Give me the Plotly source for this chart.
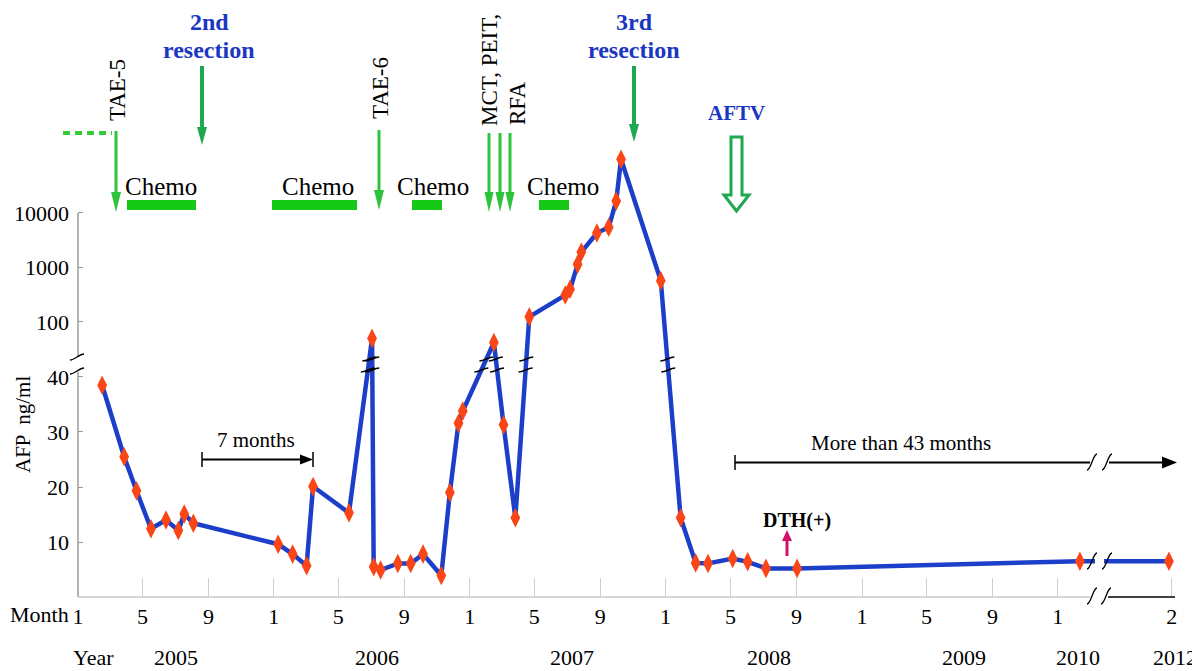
import numpy as np
import pandas as pd
import plotly.graph_objects as go

# ---------------- data ----------------
sample_dates = [
    "2005-02-15", "2005-03-28", "2005-04-20", "2005-05-17", "2005-06-14", "2005-07-07", "2005-07-18", "2005-08-04",
    "2006-01-09", "2006-02-05", "2006-03-03", "2006-03-15", "2006-05-21", "2006-07-03", "2006-07-06", "2006-07-19",
    "2006-08-20", "2006-09-13",
    "2006-10-06", "2006-11-09", "2006-11-25", "2006-12-11", "2006-12-19", "2007-02-15", "2007-03-05", "2007-03-27",
    "2007-04-22",
    "2007-06-28", "2007-07-07", "2007-07-21", "2007-07-28", "2007-08-26", "2007-09-17", "2007-10-01", "2007-10-10",
    "2007-12-23",
    "2008-01-29", "2008-02-26", "2008-03-20", "2008-05-05", "2008-06-02", "2008-07-06", "2008-09-02", "2010-02-11",
    "2012-02-15",
]
afp_ng_ml = [
    38.5, 25.5, 19.3, 12.4, 14.0, 12.1, 15.1, 13.4,
    9.6, 7.8, 5.7, 20.1, 15.3, 50, 5.5, 4.9, 6.1, 6.1,
    7.8, 3.9, 19.0, 31.6, 33.8, 42, 31.3, 14.4, 125,
    312, 398, 1150, 1920, 4300, 5470, 16600, 96600, 573,
    14.4, 6.2, 6.1, 7.0, 6.4, 5.2, 5.2, 6.5, 6.5,
]

month_tick_dates = [
    "2005-01-01", "2005-05-01", "2005-09-01", "2006-01-01", "2006-05-01", "2006-09-01",
    "2007-01-01", "2007-05-01", "2007-09-01", "2008-01-01", "2008-05-01", "2008-09-01",
    "2009-01-01", "2009-05-01", "2009-09-01", "2010-01-01", "2012-02-20",
]
month_tick_text = ["1", "5", "9", "1", "5", "9", "1", "5", "9", "1", "5", "9", "1", "5", "9", "1", "2"]
year_labels = ["2005", "2006", "2007", "2008", "2009", "2010", "2012"]
year_label_dates = ["2005-07-02", "2006-07-13", "2007-07-11", "2008-07-12", "2009-07-10", "2010-02-07", "2012-02-27"]
y_tick_values = [10, 20, 30, 40, 100, 1000, 10000]

# ---------------- broken y scale: linear 0-40, log above ----------------
LOWER_LIMIT = 40.7      # values up to here use the linear part
UPPER_100 = 50.0        # axis position of 100 ng/ml
DECADE = 9.909          # axis units per decade in the log part
Y_MAX = 81.27


def to_axis(v):
    return v if v <= LOWER_LIMIT else UPPER_100 + (np.log10(v) - 2.0) * DECADE


y_plot = [to_axis(v) for v in afp_ng_ml]

# ---------------- layout helpers ----------------
# the page body has an 8px margin, so the figure is 8px smaller than the window
PAGE_OFF = 8
W, H = 1200 - PAGE_OFF, 671 - PAGE_OFF
PLOT_L, PLOT_R, PLOT_T, PLOT_B = 78, 1177, 150, 597   # plot area in window pixels
PW, PH = PLOT_R - PLOT_L, PLOT_B - PLOT_T
SERIF = "Liberation Serif, Times New Roman, serif"
BLUE_TXT = "#1a36c2"
GREEN = "#2dc43c"
DGREEN = "#20a752"


def px(x):
    return (x - PLOT_L) / PW


def py(y):
    return (PLOT_B - y) / PH


shapes, annotations = [], []


def seg(x0, y0, x1, y1, color, width, dash=None):
    ln = dict(color=color, width=width)
    if dash:
        ln["dash"] = dash
    shapes.append(dict(type="line", xref="paper", yref="paper", x0=px(x0), y0=py(y0),
                       x1=px(x1), y1=py(y1), line=ln, layer="above"))


def poly(points, fill, line_color=None, line_width=0):
    path = "M " + " L ".join(f"{px(x):.5f},{py(y):.5f}" for x, y in points) + " Z"
    shapes.append(dict(type="path", xref="paper", yref="paper", path=path, fillcolor=fill,
                       line=dict(color=line_color or fill, width=line_width), layer="above"))


def curve(pts, color="black", width=1.3):
    (a, b, c, d) = pts
    path = (f"M {px(a[0]):.5f},{py(a[1]):.5f} C {px(b[0]):.5f},{py(b[1]):.5f} "
            f"{px(c[0]):.5f},{py(c[1]):.5f} {px(d[0]):.5f},{py(d[1]):.5f}")
    shapes.append(dict(type="path", xref="paper", yref="paper", path=path,
                       line=dict(color=color, width=width), layer="above"))


def slash_mark(x, y):
    curve([(x - 5, y + 8), (x - 1, y + 8), (x + 1, y - 8), (x + 5, y - 8)])


def tilde_mark(x, y):
    curve([(x - 7, y + 3), (x - 2, y + 3), (x + 2, y - 3), (x + 7, y - 3)])


def down_arrow(x, y0, tip, color, w=3, hl=20, hw=10):
    seg(x, y0, x, tip - hl + 2, color, w)
    poly([(x - hw / 2, tip - hl), (x + hw / 2, tip - hl), (x, tip)], color)


def text(x, y, s, size=22, color="black", bold=False, angle=0, xanchor="center", yanchor="middle"):
    if bold:
        s = f"<b>{s}</b>"
    annotations.append(dict(xref="paper", yref="paper", x=px(x), y=py(y), text=s, showarrow=False,
                            xanchor=xanchor, yanchor=yanchor, textangle=angle, borderpad=0,
                            font=dict(family=SERIF, size=size, color=color)))


# ---------------- figure ----------------
fig = go.Figure()
fig.add_trace(go.Scatter(
    x=sample_dates, y=y_plot, mode="lines+markers",
    line=dict(color="#1c3fc9", width=4.5),
    marker=dict(symbol="diamond-tall", size=14, color="#fa4616", line=dict(width=0)),
    cliponaxis=False, showlegend=False, hoverinfo="skip",
))

# break marks where the AFP line crosses the y-axis break
ts = pd.to_datetime(sample_dates)
U_BOT, U_TOP = (597 - 370) / 5.5, (597 - 359) / 5.5
for i in range(len(y_plot) - 1):
    a, b = y_plot[i], y_plot[i + 1]
    if (a <= LOWER_LIMIT) != (b <= LOWER_LIMIT):
        for um in (U_BOT, U_TOP):
            t = (um - a) / (b - a)
            d = ts[i] + (ts[i + 1] - ts[i]) * t
            shapes.append(dict(type="path", xref="x", yref="y", xsizemode="pixel", ysizemode="pixel",
                               xanchor=d.strftime("%Y-%m-%d %H:%M:%S"), yanchor=um,
                               path="M -7,-2 C -2,-2 2,2 7,2", line=dict(color="black", width=1.4),
                               layer="above"))

# axis lines (drawn with gaps at the breaks)
seg(78, 597, 78, 372, "#9a9a9a", 1.5)
seg(78, 357, 78, 213, "#9a9a9a", 1.5)
tilde_mark(77, 357)
tilde_mark(77, 371)
seg(78, 597, 1090, 597, "#c8c8c8", 1.5)
seg(1108, 597, 1175, 597, "black", 1.5)
slash_mark(1092, 596)
slash_mark(1106, 596)

# x break on the data line
poly([(1095, 553), (1104, 553), (1104, 569), (1095, 569)], "white")
slash_mark(1092, 561)
slash_mark(1107, 561)

# ---------------- treatment annotations ----------------
seg(63, 133, 112, 133, "#33cc33", 4, dash="7px,5px")
down_arrow(116, 131, 212, GREEN, w=3, hl=20, hw=10)
text(118, 90, "TAE-5", size=23, angle=-90)

text(209, 36, "2nd", size=24, color=BLUE_TXT, bold=True, yanchor="bottom")
text(209, 36, "resection", size=24, color=BLUE_TXT, bold=True, yanchor="top")
down_arrow(202, 66, 145, DGREEN, w=4, hl=18, hw=10)

down_arrow(379, 130, 210, GREEN, w=3, hl=20, hw=10)
text(381, 88, "TAE-6", size=23, angle=-90)

for xm in (489, 500, 510):
    down_arrow(xm, 133, 212, GREEN, w=3, hl=20, hw=9)
text(490, 70, "MCT, PEIT,", size=23, angle=-90)
text(517, 104, "RFA", size=23, angle=-90)

text(634, 36, "3rd", size=24, color=BLUE_TXT, bold=True, yanchor="bottom")
text(634, 36, "resection", size=24, color=BLUE_TXT, bold=True, yanchor="top")
down_arrow(634, 66, 142, DGREEN, w=4, hl=18, hw=10)

text(736, 113, "AFTV", size=21, color=BLUE_TXT, bold=True)
poly([(731, 137), (742, 137), (742, 195), (749, 195), (736.5, 211), (724, 195), (731, 195)],
     "white", line_color=DGREEN, line_width=3)

chemo_bars = [(127, 196), (272, 357), (412, 442), (539, 569)]
chemo_text_x = [161, 318, 433, 563]
for (x0, x1), xt in zip(chemo_bars, chemo_text_x):
    poly([(x0, 200), (x1, 200), (x1, 210), (x0, 210)], "#16c916")
    text(xt, 186, "Chemo", size=25)

# 7 months bracket
seg(202, 459.5, 301, 459.5, "black", 2)
poly([(300, 454.5), (313, 459.5), (300, 464.5)], "black")
seg(202, 452, 202, 467, "black", 1.5)
seg(313, 452, 313, 467, "black", 1.5)
text(256, 440, "7 months", size=21)

# More than 43 months
seg(735, 462.5, 1090, 462.5, "black", 2)
seg(1109, 462.5, 1163, 462.5, "black", 2)
poly([(1162, 456.5), (1177, 462.5), (1162, 468.5)], "black")
seg(735, 455, 735, 470, "black", 1.5)
slash_mark(1092, 462)
slash_mark(1107, 462)
text(901, 443, "More than 43 months", size=21)

# DTH(+)
text(797, 520, "DTH(+)", size=20, bold=True)
seg(787, 556, 787, 539, "#d0106a", 3)
poly([(782, 541), (792, 541), (787, 530)], "#d0106a")

# axis titles / row labels
text(23, 425, "AFP  ng/ml", size=21, angle=-90)
text(70, 614, "Month", size=22, xanchor="right")
text(93, 657, "Year", size=22)
for lab, d in zip(year_labels, year_label_dates):
    annotations.append(dict(xref="x", yref="paper", x=d, y=py(657), text=lab, showarrow=False,
                            xanchor="center", yanchor="middle", font=dict(family=SERIF, size=22, color="black")))

fig.update_layout(
    width=W, height=H,
    margin=dict(l=PLOT_L - PAGE_OFF, r=W - (PLOT_R - PAGE_OFF), t=PLOT_T - PAGE_OFF,
                b=H - (PLOT_B - PAGE_OFF), autoexpand=False),
    paper_bgcolor="white", plot_bgcolor="white",
    showlegend=False,
    xaxis=dict(
        type="date", range=["2005-01-01", "2012-03-01"],
        rangebreaks=[dict(bounds=["2010-03-20", "2011-10-09"])],
        tickmode="array", tickvals=month_tick_dates, ticktext=month_tick_text,
        ticks="inside", ticklen=19, tickcolor="#d0d0d0", tickwidth=1,
        showline=False, showgrid=False, zeroline=False, automargin=False,
        tickfont=dict(family=SERIF, size=22, color="black"), ticklabelstandoff=4,
    ),
    yaxis=dict(
        range=[0, Y_MAX], tickmode="array",
        tickvals=[to_axis(v) for v in y_tick_values], ticktext=[str(v) for v in y_tick_values],
        ticks="inside", ticklen=5, tickcolor="#9a9a9a", tickwidth=1,
        showline=False, showgrid=False, zeroline=False, automargin=False,
        tickfont=dict(family=SERIF, size=22, color="black"), ticklabelstandoff=8,
    ),
    shapes=shapes, annotations=annotations,
)

fig.write_html("out.html")
